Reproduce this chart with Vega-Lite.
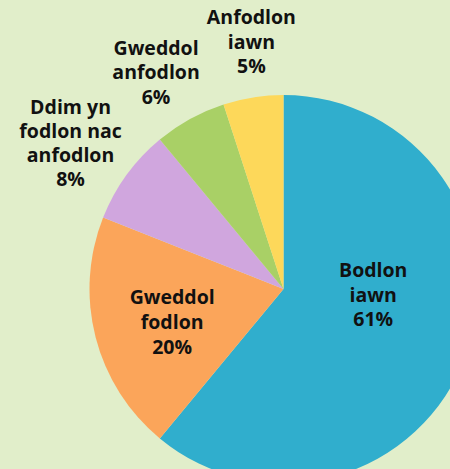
{
  "$schema": "https://vega.github.io/schema/vega-lite/v6.json",
  "width": 567,
  "height": 578,
  "padding": 0,
  "autosize": {"type": "none"},
  "background": "#e1eeca",
  "config": {"view": {"stroke": null}, "text": {"lineBreak": "\n"}},
  "data": {
    "values": [
      {"category": "Bodlon iawn", "label": "Bodlon\niawn\n61%", "value": 61, "order": 1},
      {"category": "Gweddol fodlon", "label": "Gweddol\nfodlon\n20%", "value": 20, "order": 2},
      {"category": "Ddim yn fodlon nac anfodlon", "label": "Ddim yn\nfodlon nac\nanfodlon\n8%", "value": 8, "order": 3},
      {"category": "Gweddol anfodlon", "label": "Gweddol\nanfodlon\n6%", "value": 6, "order": 4},
      {"category": "Anfodlon iawn", "label": "Anfodlon\niawn\n5%", "value": 5, "order": 5}
    ]
  },
  "encoding": {
    "theta": {"field": "value", "type": "quantitative", "stack": true},
    "order": {"field": "order", "type": "quantitative"}
  },
  "layer": [
    {
      "mark": {"type": "arc", "outerRadius": 194},
      "encoding": {
        "color": {
          "field": "category",
          "type": "nominal",
          "legend": null,
          "scale": {
            "domain": ["Bodlon iawn", "Gweddol fodlon", "Ddim yn fodlon nac anfodlon", "Gweddol anfodlon", "Anfodlon iawn"],
            "range": ["#30aecd", "#fba55a", "#d0a6de", "#a9d066", "#fdd85a"]
          }
        }
      }
    },
    {
      "mark": {"type": "text", "radius": 250, "font": "Open Sans", "fontWeight": "bold", "fontSize": 19.5, "lineHeight": 24.5, "lineBreak": "\n", "align": "center", "baseline": "middle", "color": "#111111", "dx": 7, "dy": -24},
      "encoding": {
        "text": {"condition": {"test": "datum.order == 5", "field": "label"}, "value": ""}
      }
    },
    {
      "mark": {"type": "text", "radius": 250, "font": "Open Sans", "fontWeight": "bold", "fontSize": 19.5, "lineHeight": 24.5, "lineBreak": "\n", "align": "center", "baseline": "middle", "color": "#111111", "dx": -7, "dy": -21},
      "encoding": {
        "text": {"condition": {"test": "datum.order == 4", "field": "label"}, "value": ""}
      }
    },
    {
      "mark": {"type": "text", "radius": 262, "font": "Open Sans", "fontWeight": "bold", "fontSize": 19.5, "lineHeight": 24, "lineBreak": "\n", "align": "center", "baseline": "middle", "color": "#111111", "dx": -1, "dy": -27},
      "encoding": {
        "text": {"condition": {"test": "datum.order == 3", "field": "label"}, "value": ""}
      }
    },
    {
      "mark": {"type": "text", "radius": 116, "font": "Open Sans", "fontWeight": "bold", "fontSize": 19.5, "lineHeight": 25, "lineBreak": "\n", "align": "center", "baseline": "middle", "color": "#111111", "dx": 1, "dy": -20},
      "encoding": {
        "text": {"condition": {"test": "datum.order == 2", "field": "label"}, "value": ""}
      }
    },
    {
      "mark": {"type": "text", "radius": 89, "font": "Open Sans", "fontWeight": "bold", "fontSize": 19.5, "lineHeight": 24.5, "lineBreak": "\n", "align": "center", "baseline": "middle", "color": "#111111", "dx": 6, "dy": -48},
      "encoding": {
        "text": {"condition": {"test": "datum.order == 1", "field": "label"}, "value": ""}
      }
    }
  ]
}
